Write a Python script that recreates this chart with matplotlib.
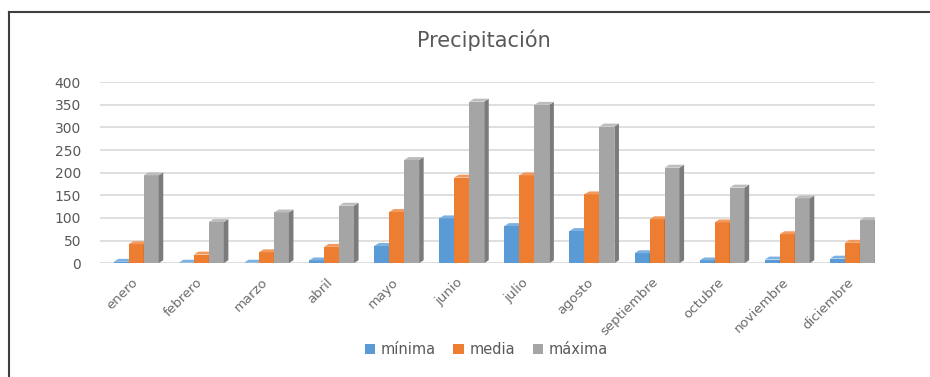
import numpy as np
import matplotlib.pyplot as plt
from matplotlib.patches import Polygon
from matplotlib.lines import Line2D

meses = ["enero", "febrero", "marzo", "abril", "mayo", "junio", "julio",
         "agosto", "septiembre", "octubre", "noviembre", "diciembre"]
minima = [3, 1, 1, 6, 38, 99, 82, 71, 22, 6, 8, 10]
media = [42, 19, 24, 36, 113, 189, 194, 152, 97, 90, 64, 45]
maxima = [194, 91, 112, 127, 228, 357, 350, 302, 211, 167, 143, 95]
series = ["mínima", "media", "máxima"]
colores = ["#5B9BD5", "#ED7D31", "#A5A5A5"]
lados = ["#41719C", "#AE5A21", "#7B7B7B"]
techos = ["#7DB1E0", "#F29A5E", "#BDBDBD"]

plt.rcParams["font.family"] = ["DejaVu Sans"]
texto = "#595959"

fig = plt.figure(figsize=(9.3, 3.77), dpi=100)
ax = fig.add_axes([0.108, 0.302, 0.833, 0.48])

x = np.arange(len(meses))
w = 0.23
dx, dy = 0.07, 6.5  # profundidad falsa para el aspecto 3D

for i, (vals, c, cs, ct, nombre) in enumerate(zip([minima, media, maxima], colores, lados, techos, series)):
    xs = x + (i - 1) * w
    ax.bar(xs, vals, width=w, color=c, zorder=3, label=nombre)
    for xi, h in zip(xs, vals):
        r = xi + w / 2
        l = xi - w / 2
        ax.add_patch(Polygon([(r, 0), (r + dx, dy), (r + dx, h + dy), (r, h)],
                             closed=True, color=cs, zorder=3, lw=0))
        ax.add_patch(Polygon([(l, h), (l + dx, h + dy), (r + dx, h + dy), (r, h)],
                             closed=True, color=ct, zorder=3, lw=0))

ax.set_xlim(-0.55, 11.35)
ax.set_ylim(0, 400)
ax.set_yticks(range(0, 401, 50))
ax.yaxis.grid(True, color="#D9D9D9", lw=1.2, zorder=0)
ax.set_axisbelow(True)
for s in ax.spines.values():
    s.set_visible(False)
ax.tick_params(axis="both", length=0, colors=texto, labelsize=10)
ax.tick_params(axis="y", pad=14)
ax.tick_params(axis="x", pad=9)
ax.set_xticks(x - 0.08)
ax.set_xticklabels(meses, rotation=45, ha="right", va="top",
                   rotation_mode="anchor", color="#6b6b6b", fontsize=9.5)

fig.text(0.52, 0.893, "Precipitación", ha="center", va="center",
         fontsize=15, color=texto)

h, l = ax.get_legend_handles_labels()
fig.legend(h, l, loc="center", bbox_to_anchor=(0.523, 0.072), ncol=3,
           frameon=False, fontsize=10.5, handlelength=0.7, handleheight=0.7,
           handletextpad=0.4, columnspacing=1.2, labelcolor=texto)

# marco del gráfico (solo visible arriba e izquierda)
fig.add_artist(Line2D([9 / 930, 1], [1 - 12 / 377, 1 - 12 / 377],
                      transform=fig.transFigure, color="#404040", lw=1.5))
fig.add_artist(Line2D([9 / 930, 9 / 930], [0, 1 - 12 / 377],
                      transform=fig.transFigure, color="#404040", lw=1.5))

fig.savefig("out.png", dpi=100)
